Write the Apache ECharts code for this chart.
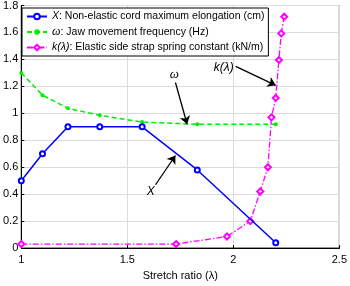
<!DOCTYPE html>
<html>
<head>
<meta charset="utf-8">
<script src="https://cdn.jsdelivr.net/npm/echarts@6/dist/echarts.min.js"></script>
<style>html,body{margin:0;padding:0;background:#fff}#c{width:350px;height:286px}</style>
</head>
<body>
<div id="c"></div>
<script>
const xTicks = [1, 1.5, 2, 2.5];
const yTicks = [0, 0.2, 0.4, 0.6, 0.8, 1, 1.2, 1.4, 1.6, 1.8];
const xData = [[1.0, 0.5], [1.1, 0.7], [1.22, 0.9], [1.37, 0.9], [1.57, 0.9], [1.83, 0.58], [2.2, 0.04]];
const omegaData = [[1.0, 1.3], [1.1, 1.135], [1.22, 1.037], [1.37, 0.985], [1.57, 0.935], [1.83, 0.919], [2.2, 0.919]];
const kData = [[1.0, 0.03], [1.73, 0.03], [1.97, 0.086], [2.08, 0.2], [2.127, 0.42], [2.163, 0.6], [2.18, 0.97], [2.2, 1.114], [2.215, 1.396], [2.226, 1.593], [2.24, 1.717]];
const annotations = [
  { text: '{w|ω}', at: [1.722, 1.29], from: [1.727, 1.229], to: [1.782, 0.919] },
  { text: '{i|X}', at: [1.61, 0.42], from: [1.633, 0.47], to: [1.727, 0.687] },
  { text: '{i|k(λ)}', at: [1.955, 1.342], from: [2.011, 1.348], to: [2.2, 1.208] }
];

const chart = echarts.init(document.getElementById('c'));
const font = 'Liberation Sans, Arial, sans-serif';
const richText = {
  i: { fontStyle: 'italic', fontFamily: font, fontSize: 10.5, color: '#000' },
  w: { fontStyle: 'italic', fontFamily: 'Liberation Serif, Times New Roman, serif', fontSize: 12, color: '#000' },
  n: { fontFamily: font, fontSize: 10.5, color: '#000' }
};
const annRich = {
  i: { fontStyle: 'italic', fontFamily: font, fontSize: 12, color: '#000' },
  w: { fontStyle: 'italic', fontFamily: 'Liberation Serif, Times New Roman, serif', fontSize: 13, color: '#000' }
};

chart.setOption({
  animation: false,
  backgroundColor: '#fff',
  grid: { left: 19, right: 9, top: 5, bottom: 26, show: true, borderColor: '#000', borderWidth: 1, backgroundColor: '#fff' },
  xAxis: {
    type: 'value', min: 1, max: 2.5, interval: 0.5,
    name: 'Stretch ratio (λ)', nameLocation: 'middle', nameGap: 17,
    nameTextStyle: { fontFamily: font, fontSize: 11, color: '#000' },
    axisLine: { show: true, lineStyle: { color: '#000' } },
    axisTick: { inside: true, length: 3, lineStyle: { color: '#000' } },
    axisLabel: { fontFamily: font, fontSize: 11, color: '#000', margin: 6, formatter: v => xTicks.includes(+v.toFixed(2)) ? String(+v.toFixed(2)) : '' },
    splitLine: { show: true, lineStyle: { color: '#dcdcdc', width: 1 } }
  },
  yAxis: {
    type: 'value', min: 0, max: 1.8, interval: 0.2,
    axisLine: { show: true, lineStyle: { color: '#000' } },
    axisTick: { inside: true, length: 3, lineStyle: { color: '#000' } },
    axisLabel: { fontFamily: font, fontSize: 11, color: '#000', margin: 3, formatter: v => { const r = +v.toFixed(2); return yTicks.includes(r) ? String(r) : ''; } },
    splitLine: { show: true, lineStyle: { color: '#dcdcdc', width: 1 } }
  },
  legend: {
    orient: 'vertical', left: 22, top: 8, itemWidth: 20, itemHeight: 7, itemGap: 4,
    padding: [3, 4, 3, 4],
    backgroundColor: '#fff', borderColor: '#000', borderWidth: 1, borderRadius: 0,
    textStyle: { fontFamily: font, fontSize: 10.5, color: '#000', rich: richText },
    data: ['X', 'omega', 'k'],
    formatter: name => ({
      X: '{i|X}{n|: Non-elastic cord maximum elongation (cm)}',
      omega: '{w|ω}{n|: Jaw movement frequency (Hz)}',
      k: '{i|k(λ)}{n|: Elastic side strap spring constant (kN/m)}'
    })[name]
  },
  series: [
    {
      name: 'X', type: 'line', data: xData, color: '#0000ff',
      lineStyle: { color: '#0000ff', width: 1.5 },
      symbol: 'emptyCircle', symbolSize: 5,
      itemStyle: { color: '#0000ff', borderColor: '#0000ff', borderWidth: 1.3 },
      markLine: {
        silent: true, symbol: ['none', 'arrow'], symbolSize: 8,
        lineStyle: { color: '#000', width: 1.3, type: 'solid' }, label: { show: false },
        itemStyle: { color: '#000' },
        data: annotations.map(a => [{ coord: a.from }, { coord: a.to }])
      },
      markPoint: {
        silent: true, symbol: 'circle', symbolSize: 0,
        label: { show: true, position: 'inside', rich: annRich, formatter: p => p.name },
        data: annotations.map(a => ({ coord: a.at, name: a.text }))
      },
      z: 3
    },
    {
      name: 'omega', type: 'line', data: omegaData, color: '#00ee00',
      lineStyle: { color: '#00ee00', width: 1.5, type: [5, 3] },
      symbol: 'circle', symbolSize: 4,
      itemStyle: { color: '#00ee00' }, z: 2
    },
    {
      name: 'k', type: 'line', data: kData, color: '#ff00ff',
      lineStyle: { color: '#ff00ff', width: 1.3, type: [6, 2, 1.5, 2] },
      symbol: 'emptyDiamond', symbolSize: 6,
      itemStyle: { color: '#ff00ff', borderColor: '#ff00ff', borderWidth: 1.3 }, z: 2
    }
  ]
});
</script>
</body>
</html>
